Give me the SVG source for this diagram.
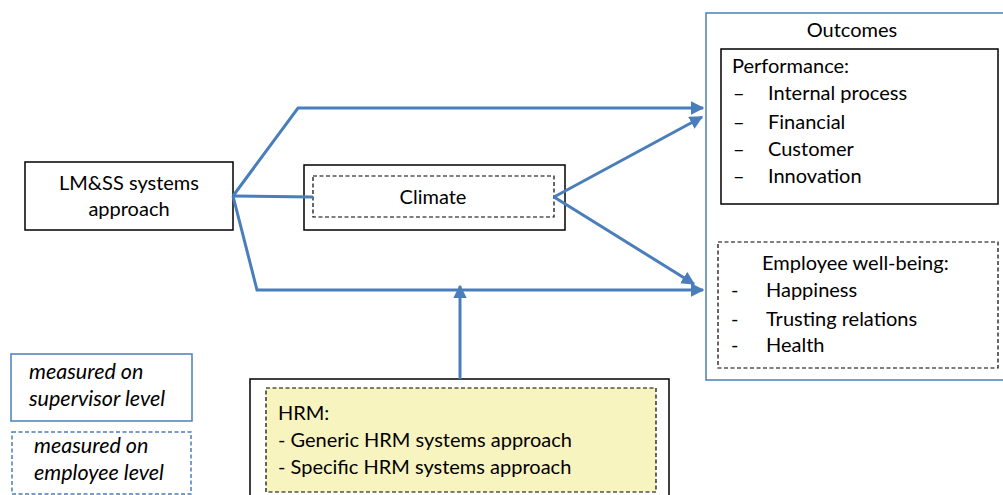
<svg xmlns="http://www.w3.org/2000/svg" width="1003" height="495" viewBox="0 0 1003 495">
<style>
text{font-family:Lato,"Liberation Sans",sans-serif;font-size:20px;fill:#000}
.it{font-style:italic;font-size:21.5px}
.box{fill:#fff;stroke:#000;stroke-width:1.5}
.dbox{fill:none;stroke:#000;stroke-width:1.2;stroke-dasharray:4 2.5}
.blue{fill:#fff;stroke:#4a7ebb;stroke-width:1.5}
.bluedash{fill:#fff;stroke:#4a7ebb;stroke-width:1.5;stroke-dasharray:4 2.5}
.conn{fill:none;stroke:#4a7ebb;stroke-width:3}
</style>
<defs>
<marker id="ah" viewBox="0 0 10 10" refX="9" refY="5" markerWidth="4.5" markerHeight="4.5" orient="auto" markerUnits="strokeWidth">
<path d="M0,0 L10,5 L0,10 z" fill="#4a7ebb"/>
</marker>
</defs>
<g id="outcomes">
<rect class="blue" x="706" y="13" width="305" height="367"/>
<text x="852" y="37" text-anchor="middle">Outcomes</text>
</g>
<g id="performance">
<rect class="box" x="721" y="49" width="277" height="155"/>
<text x="732" y="73">Performance:</text>
<text x="733" y="100">–</text><text x="768" y="100">Internal process</text>
<text x="733" y="129">–</text><text x="768" y="129">Financial</text>
<text x="733" y="156">–</text><text x="768" y="156">Customer</text>
<text x="733" y="183">–</text><text x="768" y="183">Innovation</text>
</g>
<g id="wellbeing">
<rect class="dbox" x="718" y="242" width="280" height="126"/>
<text x="762" y="270">Employee well-being:</text>
<text x="731" y="297">-</text><text x="766" y="297">Happiness</text>
<text x="731" y="326">-</text><text x="766" y="326">Trusting relations</text>
<text x="731" y="352">-</text><text x="766" y="352">Health</text>
</g>
<g id="lmss">
<rect class="box" x="25" y="162" width="208" height="68"/>
<text x="129" y="190" text-anchor="middle">LM&amp;SS systems</text>
<text x="129" y="216" text-anchor="middle">approach</text>
</g>
<g id="climate">
<rect class="box" x="304" y="165" width="261" height="65"/>
<rect class="dbox" x="313" y="176" width="241" height="41"/>
<text x="433" y="204" text-anchor="middle">Climate</text>
</g>
<g id="hrm">
<rect class="box" x="250" y="379" width="419" height="130"/>
<rect x="266" y="388" width="390" height="104" fill="#f8f4c0" stroke="#000" stroke-width="1.2" stroke-dasharray="4 2.5"/>
<text x="278" y="420">HRM:</text>
<text x="278" y="447">- Generic HRM systems approach</text>
<text x="278" y="474">- Specific HRM systems approach</text>
</g>
<g id="legend-supervisor">
<rect class="blue" x="11" y="354" width="181" height="67"/>
<text class="it" x="29" y="379">measured on</text>
<text class="it" x="29" y="406">supervisor level</text>
</g>
<g id="legend-employee">
<rect class="bluedash" x="12" y="432" width="179" height="62"/>
<text class="it" x="34" y="453">measured on</text>
<text class="it" x="34" y="480">employee level</text>
</g>
<g id="connectors">
<polyline class="conn" points="233,196 298,108 703,108" marker-end="url(#ah)"/>
<line class="conn" x1="233" y1="196" x2="313" y2="197"/>
<polyline class="conn" points="233,196 257,290 703,290" marker-end="url(#ah)"/>
<line class="conn" x1="554" y1="197" x2="702" y2="117" marker-end="url(#ah)"/>
<line class="conn" x1="554" y1="197" x2="694" y2="284" marker-end="url(#ah)"/>
<line class="conn" x1="460" y1="379" x2="460" y2="286" marker-end="url(#ah)"/>
</g>
</svg>
